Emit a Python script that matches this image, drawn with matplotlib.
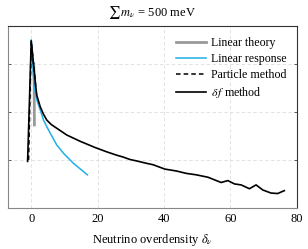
import numpy as np
import matplotlib.pyplot as plt

plt.rcParams["font.family"] = ["Liberation Serif", "DejaVu Serif"]
plt.rcParams["mathtext.fontset"] = "stix"

# values (y axis has no labels, arbitrary units)
theory_x = [0.75, 0.88, 0.95]
theory_y = [3.0, 2.55, 1.73]

response_x = [0.0, 0.2, 0.45, 0.7, 1.1, 1.7, 2.7, 3.7, 4.7, 5.7, 7.7, 9.7,
              12.7, 16.9]
response_y = [3.5, 3.25, 3.0, 2.72, 2.45, 2.25, 2.04, 1.83, 1.69, 1.56, 1.31,
              1.14, 0.93, 0.69]

particle_x = [-0.8, 0.0, 0.4, 0.9, 1.4]
particle_y = [1.0, 3.48, 3.2, 2.85, 2.5]

deltaf_x = [-1.1, 0.0, 0.4, 0.9, 1.4, 1.7, 2.7, 3.7, 4.7, 6.0, 7.7, 10.7,
            14.7, 19.2, 22.7, 25.7, 27.7, 29.7, 31.7, 34.7, 36.7, 40.2, 43.7,
            46.7, 49.7, 53.2, 57.2, 59.2, 61.2, 63.2, 65.7, 67.7, 69.7, 72.2,
            74.2, 76.2]
deltaf_y = [0.97, 3.48, 3.2, 2.85, 2.5, 2.34, 2.11, 1.95, 1.83, 1.74, 1.66,
            1.52, 1.39, 1.26, 1.17, 1.10, 1.06, 1.01, 0.98, 0.93, 0.90, 0.81,
            0.77, 0.72, 0.69, 0.64, 0.53, 0.57, 0.50, 0.48, 0.40, 0.48, 0.375,
            0.31, 0.30, 0.36]

fig = plt.figure(figsize=(3.08, 2.49), dpi=100)
ax = fig.add_axes([0.026, 0.165, 0.938, 0.73])

ax.plot(theory_x, theory_y, color="#999999", lw=2.0, label="Linear theory")
ax.plot(response_x, response_y, color="#1fb0e6", lw=1.1, label="Linear response")
ax.plot(particle_x, particle_y, color="black", lw=1.1, ls=(0, (3, 2)),
        label="Particle method")
ax.plot(deltaf_x, deltaf_y, color="black", lw=1.2, label=r"$\delta\, f$ method")

ax.set_xlim(-7, 80)
ax.set_ylim(0, 3.79)
ax.set_xticks([0, 20, 40, 60, 80])
ax.set_yticks([1, 2, 3])
ax.set_yticklabels([])
ax.grid(True, color="#dddddd", ls=(0, (4, 3)), lw=0.6)
ax.tick_params(direction="in", length=2.5, width=0.6, labelsize=9,
               right=True, top=False, colors="#444444", labelcolor="black")
ax.tick_params(axis="x", length=0, pad=4)
for s in ["left", "bottom"]:
    ax.spines[s].set_color("#888888")
for s in ["top", "right"]:
    ax.spines[s].set_color("#333333")

ax.set_xlabel(r"Neutrino overdensity $\delta_\nu$", fontsize=9, labelpad=5)
ax.set_title(r"$\sum\, m_\nu$ = 500 meV", fontsize=9, pad=7)
ax.legend(loc="upper right", frameon=False, fontsize=8.6, handlelength=2.5,
          handletextpad=0.4, labelspacing=0.35, borderaxespad=0.5)

fig.savefig("out.png", dpi=100)
